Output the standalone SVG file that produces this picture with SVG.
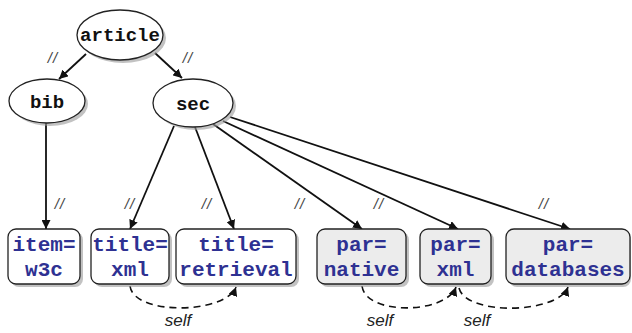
<svg xmlns="http://www.w3.org/2000/svg" width="632" height="333" viewBox="0 0 632 333">
<defs>
<marker id="ah" viewBox="0 0 10 10" refX="10" refY="5" markerWidth="9" markerHeight="9" markerUnits="userSpaceOnUse" orient="auto">
<path d="M0,0 L10,5 L0,10 z" fill="#111"/>
</marker>
<marker id="ahd" viewBox="0 0 10 10" refX="10" refY="5" markerWidth="9" markerHeight="9" markerUnits="userSpaceOnUse" orient="auto">
<path d="M0,0 L10,5 L0,10 z" fill="#111"/>
</marker>
</defs>
<style>
.shadow{fill:#9a9a9a;opacity:0.6}
.ell{fill:#fff;stroke:#222;stroke-width:1.3}
.box{fill:#fff;stroke:#222;stroke-width:1.3}
.gbox{fill:#ececec;stroke:#222;stroke-width:1.3}
.nt{font-family:"Liberation Mono",monospace;font-weight:bold;font-size:19px;fill:#111;text-anchor:middle}
.bt{font-family:"Liberation Mono",monospace;font-weight:bold;font-size:21px;fill:#2e3192;text-anchor:middle}
.edge{stroke:#111;stroke-width:1.8;fill:none;marker-end:url(#ah)}
.self{stroke:#111;stroke-width:1.6;fill:none;stroke-dasharray:7,5;marker-end:url(#ahd)}
.dd{font-family:"Liberation Sans",Arial,sans-serif;font-style:italic;font-size:15px;fill:#444;text-anchor:middle;letter-spacing:1px}
.sl{font-family:"Liberation Sans",Arial,sans-serif;font-style:italic;font-size:17px;fill:#222;text-anchor:middle}
</style>

<g id="connectors">
<line class="edge" x1="86" y1="54" x2="59" y2="79"/>
<line class="edge" x1="155" y1="53" x2="182" y2="78"/>
<line class="edge" x1="46" y1="123" x2="46" y2="229"/>
<line class="edge" x1="174" y1="126" x2="130" y2="229"/>
<line class="edge" x1="195" y1="127" x2="234" y2="229"/>
<line class="edge" x1="213" y1="124" x2="362" y2="229"/>
<line class="edge" x1="223" y1="121" x2="458" y2="229"/>
<line class="edge" x1="230" y1="117" x2="570" y2="229"/>
<path class="self" d="M130,286 C134,316 226,314 236,287"/>
<path class="self" d="M362,286 C366,316 446,314 456,287"/>
<path class="self" d="M459,288 C466,316 558,314 568,287"/>
<text class="dd" x="53" y="63">//</text>
<text class="dd" x="188" y="63">//</text>
<text class="dd" x="60" y="209">//</text>
<text class="dd" x="130" y="209">//</text>
<text class="dd" x="207" y="209">//</text>
<text class="dd" x="300" y="209">//</text>
<text class="dd" x="379" y="209">//</text>
<text class="dd" x="544" y="209">//</text>
<text class="sl" x="178" y="326">self</text>
<text class="sl" x="380" y="326">self</text>
<text class="sl" x="477" y="326">self</text>
</g>

<g id="article">
<ellipse class="shadow" cx="123" cy="38" rx="43" ry="25"/>
<ellipse class="ell" cx="120" cy="35" rx="43" ry="25"/>
<text class="nt" x="120" y="41">article</text>
</g>
<g id="bib">
<ellipse class="shadow" cx="50" cy="104" rx="38" ry="22"/>
<ellipse class="ell" cx="47" cy="101" rx="38" ry="22"/>
<text class="nt" x="47" y="108">bib</text>
</g>
<g id="sec">
<ellipse class="shadow" cx="196" cy="106" rx="40" ry="24"/>
<ellipse class="ell" cx="193" cy="103" rx="40" ry="24"/>
<text class="nt" x="193" y="110">sec</text>
</g>

<g id="item-w3c">
<rect class="shadow" x="11" y="232" width="72" height="55" rx="8"/>
<rect class="box" x="8" y="229" width="72" height="55" rx="8"/>
<text class="bt" x="44" y="251">item=</text>
<text class="bt" x="44" y="276">w3c</text>
</g>
<g id="title-xml">
<rect class="shadow" x="94" y="232" width="78" height="55" rx="8"/>
<rect class="box" x="91" y="229" width="78" height="55" rx="8"/>
<text class="bt" x="130" y="251">title=</text>
<text class="bt" x="130" y="276">xml</text>
</g>
<g id="title-retrieval">
<rect class="shadow" x="179" y="232" width="120" height="55" rx="8"/>
<rect class="box" x="176" y="229" width="120" height="55" rx="8"/>
<text class="bt" x="236" y="251">title=</text>
<text class="bt" x="236" y="276">retrieval</text>
</g>
<g id="par-native">
<rect class="shadow" x="320" y="232" width="89" height="55" rx="8"/>
<rect class="gbox" x="317" y="229" width="89" height="55" rx="8"/>
<text class="bt" x="361.5" y="251">par=</text>
<text class="bt" x="361.5" y="276">native</text>
</g>
<g id="par-xml">
<rect class="shadow" x="423" y="232" width="71" height="55" rx="8"/>
<rect class="gbox" x="420" y="229" width="71" height="55" rx="8"/>
<text class="bt" x="455.5" y="251">par=</text>
<text class="bt" x="455.5" y="276">xml</text>
</g>
<g id="par-databases">
<rect class="shadow" x="509" y="232" width="122" height="55" rx="8"/>
<rect class="gbox" x="506" y="229" width="124" height="55" rx="8"/>
<text class="bt" x="568" y="251">par=</text>
<text class="bt" x="568" y="276">databases</text>
</g>
</svg>
